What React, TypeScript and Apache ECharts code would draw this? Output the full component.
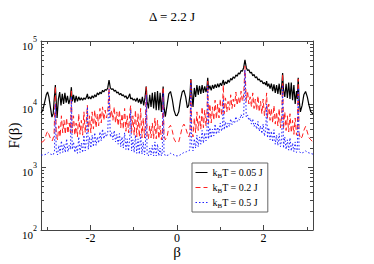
import React, { useEffect, useRef } from "react";
import * as echarts from "echarts";

const titleText = "Δ = 2.2 J";
const seriesNames = ["kBT = 0.05 J", "kBT = 0.2 J", "kBT = 0.5 J"];
const xMajorTicks = [-2, 0, 2];
const xMinorTicks = [-3, -1, 1, 3];
const yMinorTickValues = [
  200, 300, 400, 500, 600, 700, 800, 900,
  2000, 3000, 4000, 5000, 6000, 7000, 8000, 9000,
  20000, 30000, 40000, 50000, 60000, 70000, 80000, 90000,
];

const blackData: [number, number][] = [
  [-3.14, 7200], [-3.1, 8000], [-3.06, 10500], [-3.02, 14000], [-2.99, 15500], [-2.96, 13000],
  [-2.92, 8500], [-2.89, 6200], [-2.86, 7000], [-2.84, 11000], [-2.81, 20000], [-2.79, 11000],
  [-2.77, 6000], [-2.74, 12000], [-2.71, 15500], [-2.68, 9500], [-2.65, 14500], [-2.62, 10000],
  [-2.59, 15000], [-2.56, 10500], [-2.53, 13500], [-2.5, 10000], [-2.47, 12000], [-2.44, 18500],
  [-2.42, 11000], [-2.39, 14000], [-2.36, 10500], [-2.33, 13500], [-2.3, 11000], [-2.27, 13000],
  [-2.24, 11500], [-2.21, 12500], [-2.18, 11500], [-2.15, 12500], [-2.12, 11800], [-2.09, 13000],
  [-2.07, 14500], [-2.05, 12000], [-2.02, 13000], [-1.99, 12000], [-1.96, 13500], [-1.93, 12500],
  [-1.9, 14000], [-1.87, 13000], [-1.84, 15000], [-1.81, 14000], [-1.78, 15500], [-1.75, 14500],
  [-1.72, 16500], [-1.69, 15500], [-1.66, 17000], [-1.63, 16500], [-1.6, 18000], [-1.57, 24000],
  [-1.54, 18000], [-1.51, 17000], [-1.48, 17500], [-1.45, 16000], [-1.42, 16500], [-1.39, 15000],
  [-1.36, 15500], [-1.33, 14000], [-1.3, 14800], [-1.27, 13500], [-1.24, 14000], [-1.21, 12800],
  [-1.18, 13500], [-1.15, 12000], [-1.12, 13000], [-1.09, 14500], [-1.07, 12000], [-1.04, 12500],
  [-1.01, 11500], [-0.98, 12000], [-0.95, 11000], [-0.92, 12500], [-0.89, 10500], [-0.86, 12000],
  [-0.83, 10000], [-0.8, 13000], [-0.77, 9500], [-0.74, 12500], [-0.71, 19000], [-0.69, 11000],
  [-0.66, 8500], [-0.63, 14000], [-0.6, 9000], [-0.57, 15000], [-0.54, 8500], [-0.51, 15500],
  [-0.48, 8000], [-0.45, 16000], [-0.42, 8000], [-0.39, 15000], [-0.36, 7500], [-0.34, 12000],
  [-0.32, 19000], [-0.3, 9000], [-0.27, 6300], [-0.23, 9500], [-0.19, 14500], [-0.15, 15800],
  [-0.11, 12000], [-0.07, 8000], [-0.03, 6600], [0.0, 6500], [0.04, 7500], [0.08, 11500],
  [0.12, 15500], [0.16, 16500], [0.2, 13000], [0.24, 8700], [0.27, 9500], [0.3, 14000],
  [0.32, 25000], [0.34, 15000], [0.37, 9000], [0.4, 18000], [0.43, 13000], [0.46, 20000],
  [0.49, 14000], [0.52, 19500], [0.55, 14500], [0.58, 20000], [0.61, 15000], [0.64, 19000],
  [0.67, 15500], [0.69, 18000], [0.71, 26000], [0.73, 17000], [0.76, 19500], [0.79, 16500],
  [0.82, 20000], [0.85, 17500], [0.88, 20500], [0.91, 18000], [0.94, 21000], [0.97, 18500],
  [1.0, 21500], [1.03, 19500], [1.05, 22000], [1.07, 24000], [1.09, 20000], [1.12, 22500],
  [1.15, 21000], [1.18, 24000], [1.21, 22000], [1.24, 25500], [1.27, 24000], [1.3, 27000],
  [1.33, 25500], [1.36, 29000], [1.39, 27500], [1.42, 31000], [1.45, 30000], [1.48, 34000],
  [1.51, 33000], [1.54, 38000], [1.57, 50000], [1.6, 38000], [1.63, 34000], [1.66, 35000],
  [1.69, 31000], [1.72, 32000], [1.75, 28000], [1.78, 29500], [1.81, 26000], [1.84, 27000],
  [1.87, 24000], [1.9, 25000], [1.93, 22500], [1.96, 23500], [1.99, 21000], [2.02, 22000],
  [2.05, 20000], [2.07, 23000], [2.09, 19000], [2.12, 21000], [2.15, 17500], [2.18, 21000],
  [2.21, 16000], [2.24, 20500], [2.27, 15000], [2.3, 20000], [2.33, 14500], [2.36, 21000],
  [2.39, 14000], [2.42, 20000], [2.44, 31000], [2.46, 17000], [2.49, 13000], [2.52, 21000],
  [2.55, 12500], [2.58, 22000], [2.61, 12000], [2.64, 22000], [2.67, 11500], [2.7, 20000],
  [2.73, 10000], [2.76, 16000], [2.78, 12000], [2.8, 26000], [2.82, 12000], [2.85, 7500],
  [2.89, 9500], [2.93, 14000], [2.97, 15800], [3.01, 13000], [3.05, 9500], [3.09, 7500],
  [3.14, 7000],
];

const redData: [number, number][] = [
  [-3.14, 2500], [-3.1, 2500], [-3.06, 2700], [-3.02, 3300], [-2.99, 3700], [-2.96, 3300],
  [-2.92, 2800], [-2.88, 2600], [-2.84, 3200], [-2.81, 19000], [-2.79, 3500], [-2.76, 2700],
  [-2.73, 4500], [-2.7, 3000], [-2.67, 6500], [-2.64, 3500], [-2.61, 5500], [-2.58, 3300],
  [-2.55, 6000], [-2.52, 3400], [-2.49, 5000], [-2.46, 3500], [-2.44, 17000], [-2.42, 3500],
  [-2.39, 6500], [-2.36, 3200], [-2.33, 5000], [-2.3, 3000], [-2.27, 7000], [-2.24, 3300],
  [-2.21, 5500], [-2.18, 3200], [-2.15, 7500], [-2.12, 3500], [-2.09, 6000], [-2.07, 9500],
  [-2.05, 3600], [-2.02, 6500], [-1.99, 3500], [-1.96, 7500], [-1.93, 4000], [-1.9, 8000],
  [-1.87, 4200], [-1.84, 7000], [-1.81, 4500], [-1.78, 8500], [-1.75, 5000], [-1.72, 9000],
  [-1.69, 5500], [-1.66, 8000], [-1.63, 6000], [-1.6, 7500], [-1.57, 18000], [-1.54, 6000],
  [-1.51, 8000], [-1.48, 5500], [-1.45, 9000], [-1.42, 5000], [-1.39, 7500], [-1.36, 4500],
  [-1.33, 8000], [-1.3, 4200], [-1.27, 7000], [-1.24, 4000], [-1.21, 8500], [-1.18, 3700],
  [-1.15, 6500], [-1.12, 3500], [-1.09, 7500], [-1.07, 9500], [-1.05, 3500], [-1.02, 6500],
  [-0.99, 3200], [-0.96, 8000], [-0.93, 3000], [-0.9, 7000], [-0.87, 3000], [-0.84, 8500],
  [-0.81, 2900], [-0.78, 6000], [-0.75, 2900], [-0.73, 5000], [-0.71, 18500], [-0.69, 3000],
  [-0.66, 2800], [-0.63, 4500], [-0.6, 2900], [-0.57, 5000], [-0.54, 2800], [-0.51, 6000],
  [-0.48, 2800], [-0.45, 5500], [-0.42, 2800], [-0.39, 4500], [-0.36, 2700], [-0.34, 3200],
  [-0.32, 18500], [-0.3, 3200], [-0.27, 2700], [-0.23, 3000], [-0.19, 4200], [-0.15, 4600],
  [-0.11, 3800], [-0.07, 2800], [-0.03, 2500], [0.0, 2450], [0.04, 2500], [0.08, 3200],
  [0.12, 4300], [0.16, 4800], [0.2, 4200], [0.24, 3400], [0.27, 3000], [0.3, 3500],
  [0.32, 24000], [0.34, 3800], [0.37, 3000], [0.4, 6000], [0.43, 3500], [0.46, 7500],
  [0.49, 3800], [0.52, 6500], [0.55, 4000], [0.58, 9000], [0.61, 4200], [0.64, 8000],
  [0.67, 4500], [0.69, 6500], [0.71, 23000], [0.73, 5000], [0.76, 10000], [0.79, 5000],
  [0.82, 9000], [0.85, 5500], [0.88, 11500], [0.91, 5800], [0.94, 10000], [0.97, 6000],
  [1.0, 12000], [1.03, 6500], [1.05, 9000], [1.07, 20000], [1.09, 7000], [1.12, 12500],
  [1.15, 7500], [1.18, 11000], [1.21, 8000], [1.24, 14000], [1.27, 8500], [1.3, 12000],
  [1.33, 9000], [1.36, 15500], [1.39, 9500], [1.42, 13000], [1.45, 10000], [1.48, 16000],
  [1.51, 11000], [1.54, 14000], [1.57, 40000], [1.6, 11000], [1.63, 16000], [1.66, 10000],
  [1.69, 13000], [1.72, 9000], [1.75, 15000], [1.78, 8500], [1.81, 12000], [1.84, 8000],
  [1.87, 13500], [1.9, 7500], [1.93, 11000], [1.96, 7000], [1.99, 12000], [2.02, 6500],
  [2.05, 9500], [2.07, 15000], [2.09, 6000], [2.12, 10000], [2.15, 5500], [2.18, 8500],
  [2.21, 5000], [2.24, 9500], [2.27, 4800], [2.3, 7500], [2.33, 4500], [2.36, 8500],
  [2.39, 4200], [2.42, 6500], [2.44, 30000], [2.46, 4000], [2.49, 7500], [2.52, 3800],
  [2.55, 6500], [2.58, 3600], [2.61, 7000], [2.64, 3500], [2.67, 5500], [2.7, 3300],
  [2.73, 6000], [2.76, 3200], [2.78, 4000], [2.8, 25000], [2.82, 3500], [2.85, 2800],
  [2.89, 3000], [2.93, 3800], [2.97, 4400], [3.01, 3600], [3.05, 2900], [3.09, 2700],
  [3.14, 2500],
];

const blueData: [number, number][] = [
  [-3.14, 1550], [-3.08, 1550], [-3.02, 1600], [-2.97, 1700], [-2.92, 1600], [-2.86, 1550],
  [-2.83, 1800], [-2.81, 10000], [-2.79, 1800], [-2.76, 1550], [-2.73, 2200], [-2.7, 1650],
  [-2.67, 2600], [-2.64, 1700], [-2.61, 2300], [-2.58, 1700], [-2.55, 2800], [-2.52, 1750],
  [-2.49, 2200], [-2.46, 1900], [-2.44, 13000], [-2.42, 1900], [-2.39, 2500], [-2.36, 1700],
  [-2.33, 2200], [-2.3, 1650], [-2.27, 3000], [-2.24, 1700], [-2.21, 2400], [-2.18, 1700],
  [-2.15, 3200], [-2.12, 1800], [-2.09, 2800], [-2.07, 9000], [-2.05, 1900], [-2.02, 3000],
  [-1.99, 2000], [-1.96, 3200], [-1.93, 2100], [-1.9, 3500], [-1.87, 2200], [-1.84, 3000],
  [-1.81, 2400], [-1.78, 3600], [-1.75, 2600], [-1.72, 4000], [-1.69, 2800], [-1.66, 3500],
  [-1.63, 3000], [-1.6, 3500], [-1.57, 17000], [-1.54, 3000], [-1.51, 3500], [-1.48, 2700],
  [-1.45, 3800], [-1.42, 2500], [-1.39, 3300], [-1.36, 2300], [-1.33, 3400], [-1.3, 2100],
  [-1.27, 3000], [-1.24, 2000], [-1.21, 3500], [-1.18, 1900], [-1.15, 2800], [-1.12, 1800],
  [-1.09, 3000], [-1.07, 8000], [-1.05, 1800], [-1.02, 2700], [-0.99, 1700], [-0.96, 3200],
  [-0.93, 1650], [-0.9, 2800], [-0.87, 1600], [-0.84, 3300], [-0.81, 1600], [-0.78, 2500],
  [-0.75, 1550], [-0.73, 2200], [-0.71, 14000], [-0.69, 1600], [-0.66, 1500], [-0.63, 2000],
  [-0.6, 1550], [-0.57, 2200], [-0.54, 1500], [-0.51, 2500], [-0.48, 1500], [-0.45, 2300],
  [-0.42, 1500], [-0.39, 2000], [-0.36, 1500], [-0.34, 1700], [-0.32, 15000], [-0.3, 1700],
  [-0.27, 1500], [-0.2, 1550], [-0.15, 1650], [-0.1, 1600], [-0.05, 1520], [0.0, 1500],
  [0.05, 1520], [0.1, 1600], [0.16, 1700], [0.22, 1750], [0.28, 1800], [0.3, 2000],
  [0.32, 22000], [0.34, 2200], [0.37, 1800], [0.4, 2800], [0.43, 2000], [0.46, 3200],
  [0.49, 2100], [0.52, 3000], [0.55, 2300], [0.58, 3800], [0.61, 2400], [0.64, 3500],
  [0.67, 2600], [0.69, 3000], [0.71, 20000], [0.73, 2800], [0.76, 4200], [0.79, 2900],
  [0.82, 4000], [0.85, 3100], [0.88, 4800], [0.91, 3300], [0.94, 4300], [0.97, 3500],
  [1.0, 5000], [1.03, 3700], [1.05, 4200], [1.07, 12000], [1.09, 3900], [1.12, 5200],
  [1.15, 4100], [1.18, 5000], [1.21, 4400], [1.24, 5800], [1.27, 4700], [1.3, 5300],
  [1.33, 5000], [1.36, 6300], [1.39, 5300], [1.42, 5800], [1.45, 5600], [1.48, 6800],
  [1.51, 6000], [1.54, 6500], [1.57, 35000], [1.6, 6200], [1.63, 6700], [1.66, 5500],
  [1.69, 6000], [1.72, 4800], [1.75, 5800], [1.78, 4400], [1.81, 5000], [1.84, 4000],
  [1.87, 5300], [1.9, 3700], [1.93, 4500], [1.96, 3400], [1.99, 4800], [2.02, 3100],
  [2.05, 4000], [2.07, 10000], [2.09, 2900], [2.12, 4200], [2.15, 2700], [2.18, 3700],
  [2.21, 2500], [2.24, 3900], [2.27, 2300], [2.3, 3200], [2.33, 2200], [2.36, 3400],
  [2.39, 2100], [2.42, 2800], [2.44, 20000], [2.46, 2000], [2.49, 3000], [2.52, 1900],
  [2.55, 2700], [2.58, 1850], [2.61, 2900], [2.64, 1800], [2.67, 2400], [2.7, 1750],
  [2.73, 2500], [2.76, 1700], [2.78, 1900], [2.8, 18000], [2.82, 1800], [2.86, 1650],
  [2.92, 1700], [2.97, 1800], [3.02, 1700], [3.08, 1650], [3.14, 1600],
];

const FONT = "'Liberation Serif', 'DejaVu Serif', serif";
const AXIS_COLOR = "#444";

export default function App() {
  const ref = useRef<HTMLDivElement>(null);
  useEffect(() => {
    document.body.style.margin = "0";
    if (!ref.current) return;
    const chart = echarts.init(ref.current, null, { renderer: "svg" });
    const xBase = { type: "value", min: -Math.PI, max: Math.PI, gridIndex: 0, splitLine: { show: false }, nameMoveOverlap: false };
    const yLogBase = { type: "log", min: 100, max: 100000, logBase: 10, splitLine: { show: false }, nameMoveOverlap: false };
    const yMinorBase = { type: "value", min: 2, max: 5, splitLine: { show: false } };
    const minorLogVals = yMinorTickValues.map((v) => Math.log10(v));
    const lineOn = { show: true, onZero: false, lineStyle: { color: AXIS_COLOR, width: 1 } };
    const lineOff = { show: false, onZero: false };
    chart.setOption({
      animation: false,
      backgroundColor: "#fff",
      title: {
        text: titleText,
        left: 149,
        top: 10,
        padding: 0,
        textStyle: { fontFamily: FONT, fontSize: 13, fontWeight: "normal", color: "#000" },
      },
      grid: { left: 41, top: 41, right: 61, bottom: 34, containLabel: false, outerBoundsMode: "none" },
      legend: {
        orient: "vertical",
        left: 192,
        top: 163,
        padding: [3, 5, 3, 3],
        itemGap: 2,
        itemWidth: 12,
        itemHeight: 10,
        borderColor: "#666",
        borderWidth: 1,
        backgroundColor: "#fff",
        data: seriesNames,
        itemStyle: { opacity: 0 },
        lineStyle: { width: 1 },
        formatter: (name: string) => name.replace("kBT", "k{sub|B}T"),
        textStyle: {
          fontFamily: FONT,
          fontSize: 10,
          color: "#000",
          lineHeight: 13,
          rich: { sub: { fontFamily: FONT, fontSize: 7, verticalAlign: "bottom", lineHeight: 13, padding: [4, 0, 0, 0] } },
        },
      },
      xAxis: [
        {
          ...xBase,
          position: "bottom",
          name: "β",
          nameLocation: "middle",
          nameGap: 14,
          nameTextStyle: { fontFamily: FONT, fontSize: 15, color: "#000" },
          axisLine: lineOn,
          axisTick: { show: true, inside: true, length: 5, customValues: xMajorTicks, lineStyle: { color: AXIS_COLOR } },
          axisLabel: { show: true, customValues: xMajorTicks, margin: 2, lineHeight: 12, fontFamily: FONT, fontSize: 12, color: "#000" },
        },
        {
          ...xBase,
          position: "bottom",
          axisLine: lineOff,
          axisTick: { show: true, inside: true, length: 3, customValues: xMinorTicks, lineStyle: { color: AXIS_COLOR } },
          axisLabel: { show: false },
        },
        {
          ...xBase,
          position: "top",
          axisLine: lineOn,
          axisTick: { show: true, inside: true, length: 5, customValues: xMajorTicks, lineStyle: { color: AXIS_COLOR } },
          axisLabel: { show: false },
        },
        {
          ...xBase,
          position: "top",
          axisLine: lineOff,
          axisTick: { show: true, inside: true, length: 3, customValues: xMinorTicks, lineStyle: { color: AXIS_COLOR } },
          axisLabel: { show: false },
        },
      ],
      yAxis: [
        {
          ...yLogBase,
          position: "left",
          name: "F(β)",
          nameLocation: "middle",
          nameGap: 20,
          nameTextStyle: { fontFamily: FONT, fontSize: 15, color: "#000" },
          axisLine: lineOn,
          axisTick: { show: true, inside: true, length: 5, lineStyle: { color: AXIS_COLOR } },
          axisLabel: {
            show: true,
            margin: 4,
            padding: [4, 0, 0, 0],
            formatter: (v: number) => `{b|10}{s|${Math.round(Math.log10(v))}}`,
            rich: {
              b: { fontFamily: FONT, fontSize: 11, color: "#000", verticalAlign: "bottom", lineHeight: 16 },
              s: { fontFamily: FONT, fontSize: 8, color: "#000", verticalAlign: "top", lineHeight: 16 },
            },
          },
        },
        {
          ...yMinorBase,
          position: "left",
          axisLine: lineOff,
          axisTick: { show: true, inside: true, length: 3, customValues: minorLogVals, lineStyle: { color: AXIS_COLOR } },
          axisLabel: { show: false },
        },
        {
          ...yLogBase,
          position: "right",
          axisLine: lineOn,
          axisTick: { show: true, inside: true, length: 5, lineStyle: { color: AXIS_COLOR } },
          axisLabel: { show: false },
        },
        {
          ...yMinorBase,
          position: "right",
          axisLine: lineOff,
          axisTick: { show: true, inside: true, length: 3, customValues: minorLogVals, lineStyle: { color: AXIS_COLOR } },
          axisLabel: { show: false },
        },
      ],
      series: [
        {
          name: seriesNames[0],
          type: "line",
          data: blackData,
          showSymbol: false,
          symbol: "none",
          z: 3,
          lineStyle: { color: "#000", width: 1.2, type: "solid" },
          itemStyle: { color: "#000" },
        },
        {
          name: seriesNames[1],
          type: "line",
          data: redData,
          showSymbol: false,
          symbol: "none",
          z: 4,
          lineStyle: { color: "#ff2020", width: 1, type: [5, 3] },
          itemStyle: { color: "#ff2020" },
        },
        {
          name: seriesNames[2],
          type: "line",
          data: blueData,
          showSymbol: false,
          symbol: "none",
          z: 5,
          lineStyle: { color: "#2020ff", width: 1, type: [1.5, 2] },
          itemStyle: { color: "#2020ff" },
        },
      ],
    });
    return () => chart.dispose();
  }, []);
  return <div ref={ref} style={{ width: 374, height: 264 }} />;
}
